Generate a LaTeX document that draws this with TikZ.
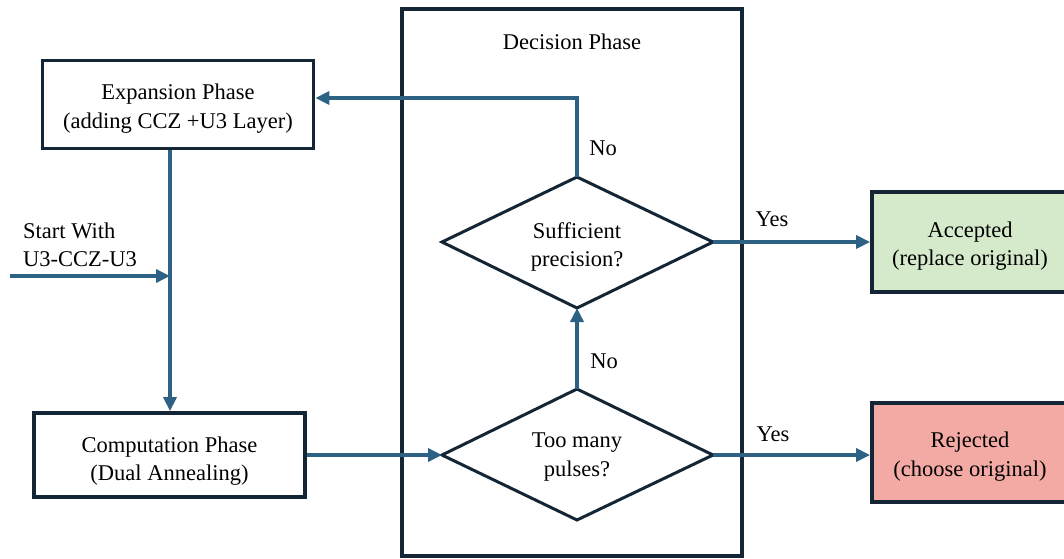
\documentclass[tikz,border=0pt]{standalone}
\usepackage{fontspec}
\setmainfont{Liberation Serif}
\usetikzlibrary{shapes.geometric,arrows.meta}
\definecolor{flowblue}{RGB}{46,98,133}
\definecolor{boxdark}{RGB}{20,38,54}
\definecolor{accfill}{RGB}{213,234,203}
\definecolor{rejfill}{RGB}{244,170,164}
\newcommand{\boxtxt}[2]{\raisebox{-#1}[\height][\depth]{\begin{tabular}{@{}c@{}}#2\end{tabular}}}
\tikzset{
  x=1pt, y=-1pt,
  every node/.style={font=\fontsize{22.5}{28.5}\selectfont, text=black},
  phasebox/.style={draw=boxdark, line width=3.8pt, align=center, inner sep=0pt},
  decisionshape/.style={draw=boxdark, line width=3pt},
  flow/.style={draw=flowblue, line width=3.8pt, -{Triangle[length=14pt,width=13pt]}},
  lbl/.style={inner sep=0pt, align=center}
}
\begin{document}
\begin{tikzpicture}
\useasboundingbox (0,0) rectangle (1064,558);
% decision frame
\draw[boxdark, line width=4.2pt] (402,9) rectangle (742,556);
\node[lbl] (dtitle) at (572,42) {Decision Phase};
% boxes
\node[phasebox, minimum width=271pt, minimum height=88pt] (exp) at (178,104.5) {\boxtxt{4pt}{Expansion Phase\\(adding CCZ +U3 Layer)}};
\node[phasebox, minimum width=271pt, minimum height=84pt] (comp) at (169.5,455) {\boxtxt{6pt}{Computation Phase\\(Dual Annealing)}};
\node[phasebox, fill=accfill, minimum width=196pt, minimum height=100pt] (acc) at (970,242) {\boxtxt{4pt}{Accepted\\(replace original)}};
\node[phasebox, fill=rejfill, minimum width=196pt, minimum height=99pt] (rej) at (970,452.5) {\boxtxt{4pt}{Rejected\\(choose original)}};
% diamonds
\draw[decisionshape] (577,177) coordinate (d1t) -- (713,242) coordinate (d1r) -- (577,308) coordinate (d1b) -- (442,242) coordinate (d1l) -- cycle;
\node[lbl] (d1) at (577,247) {Sufficient\\precision?};
\draw[decisionshape] (577,389) coordinate (d2t) -- (713,455) coordinate (d2r) -- (577,520) coordinate (d2b) -- (442,455) coordinate (d2l) -- cycle;
\node[lbl] (d2) at (577,457) {Too many\\pulses?};
% connectors
\coordinate (start) at (10,276);
\coordinate (junc) at (170,276);
\coordinate (corner) at (577,98);
\draw[flow] (start) -- (junc);
\draw[flow] (exp.south -| junc) -- (comp.north -| junc);
\draw[flow] (d1t) -- (corner) -- (exp.east |- corner);
\draw[flow] (d2t) -- (d1b);
\draw[flow] (d1r) -- (acc.west |- d1r);
\draw[flow] (d2r) -- (rej.west |- d2r);
\draw[flow] (comp.east |- d2l) -- (d2l);
% labels
\node[lbl, align=left, anchor=west] (startlbl) at (23,245) {Start With\\U3-CCZ-U3};
\node[lbl] (no1) at (603,148) {No};
\node[lbl] (no2) at (604,361) {No};
\node[lbl] (yes1) at (772,219) {Yes};
\node[lbl] (yes2) at (773,434) {Yes};
\end{tikzpicture}
\end{document}
